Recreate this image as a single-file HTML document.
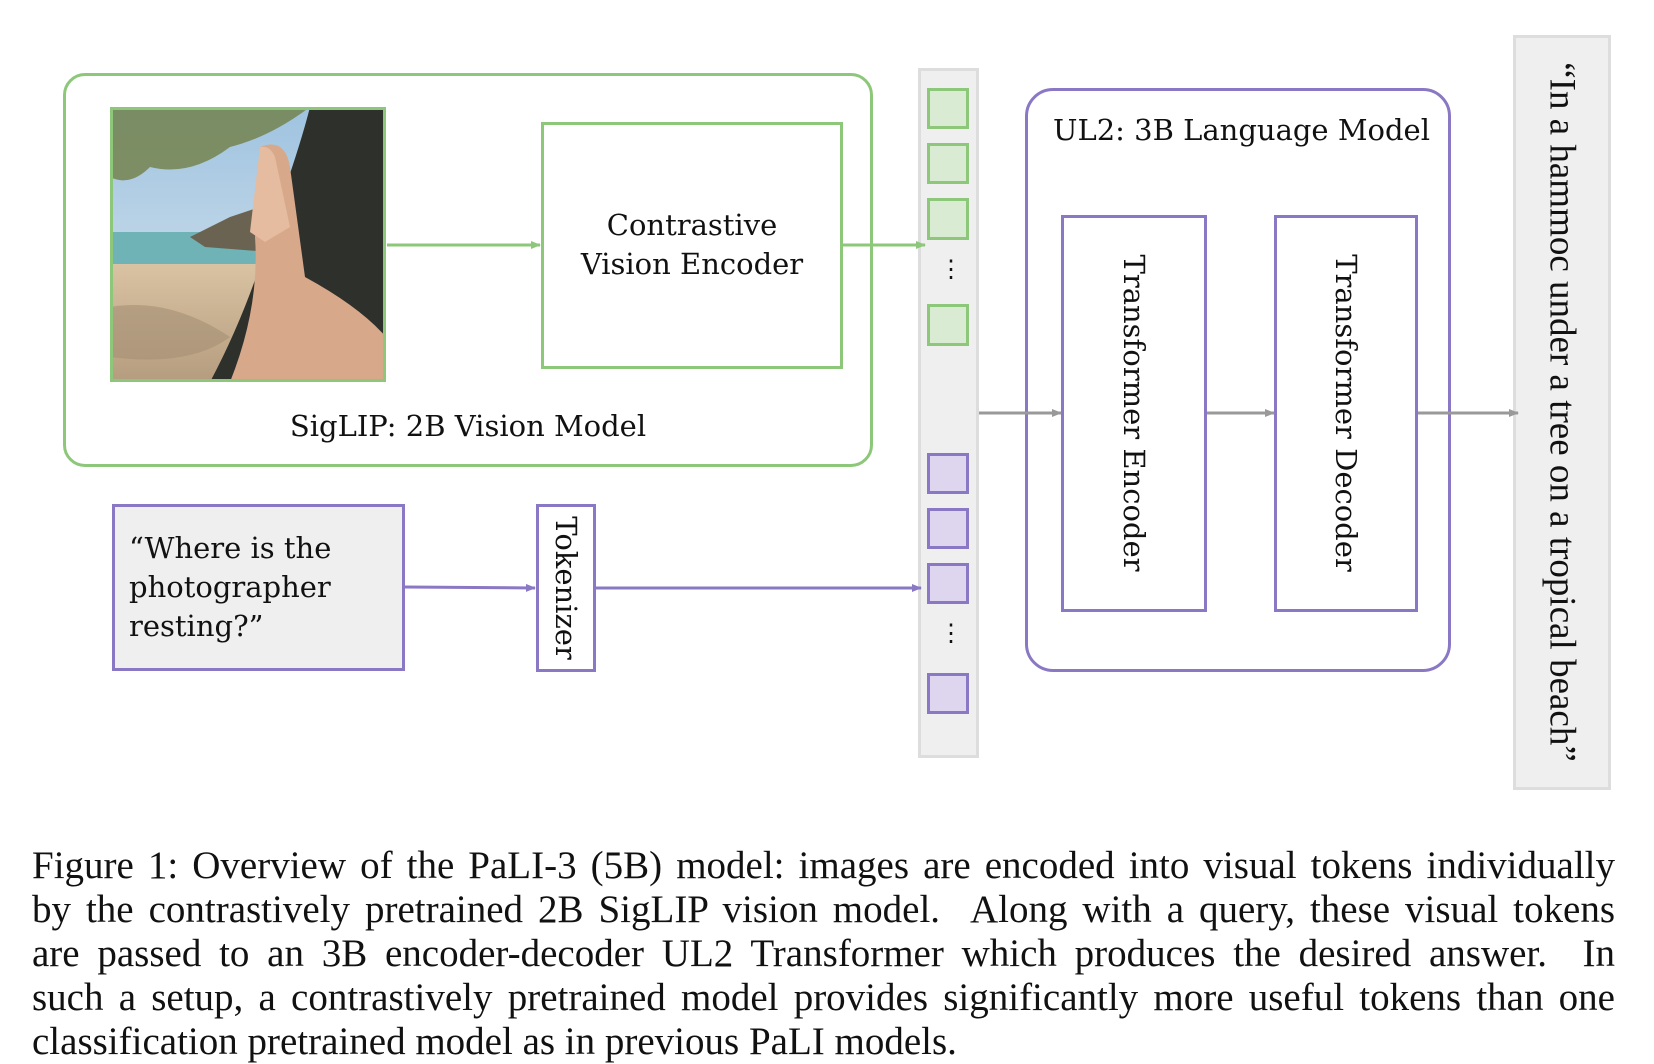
<!DOCTYPE html>
<html><head><meta charset="utf-8"><style>
html,body{margin:0;padding:0;background:#fff;}
body{width:1654px;height:1064px;position:relative;overflow:hidden;font-family:"DejaVu Serif","Liberation Serif",serif;}
.a{position:absolute;box-sizing:border-box;}
.t{position:absolute;color:#111;font-size:29px;white-space:nowrap;}
.cap{position:absolute;left:32px;top:844px;width:1583px;font-family:"Liberation Serif",serif;font-size:39px;line-height:44px;color:#111;}
.cap div{text-align:justify;text-align-last:justify;height:44px;white-space:nowrap;}
.cap div.l{text-align-last:left;}
.g{background:#d9ebd3;border:3px solid #8cc77a;}
.p{background:#ddd6ee;border:3px solid #8b78c4;}
</style></head><body>
<div class="a" style="left:63px;top:73px;width:810px;height:394px;border:3px solid #8cc77a;border-radius:22px"></div>
<svg class="a" style="left:110px;top:107px" width="276" height="275" viewBox="0 0 276 275">
<defs><linearGradient id="sk" x1="0" y1="0" x2="0" y2="1"><stop offset="0" stop-color="#9fc3e0"/><stop offset="1" stop-color="#dbe6ee"/></linearGradient>
<linearGradient id="sd" x1="0" y1="0" x2="0" y2="1"><stop offset="0" stop-color="#d9c3a3"/><stop offset="1" stop-color="#b59c7e"/></linearGradient></defs>
<rect width="276" height="275" fill="url(#sk)"/>
<rect y="125" width="276" height="35" fill="#6fb3b6"/>
<path d="M80 130 L120 110 L150 100 L170 130 L160 145 L95 140Z" fill="#6b6352"/>
<rect y="157" width="276" height="118" fill="url(#sd)"/>
<path d="M0 200 Q60 190 120 230 Q80 260 0 250Z" fill="#a58f74" opacity=".6"/>
<path d="M200 0 L276 0 L276 275 L100 275 Q140 200 165 110 Q190 40 200 0Z" fill="#2e302c"/>
<path d="M150 40 Q175 30 180 60 L195 170 Q250 200 276 230 L276 275 L120 275 Q150 200 145 130Z" fill="#d7a88a"/>
<path d="M150 40 Q160 38 165 50 L180 120 L155 135 L140 125Z" fill="#e5bca0"/>
<path d="M0 0 L200 0 Q160 30 120 40 Q80 70 40 60 Q20 80 0 70Z" fill="#6d7a3a" opacity=".75"/>
</svg>
<div class="a" style="left:110px;top:107px;width:276px;height:275px;border:3px solid #8cc77a"></div>
<div class="a" style="left:541px;top:122px;width:302px;height:247px;border:3px solid #8cc77a"></div>
<div class="t" style="left:531px;top:206px;width:322px;text-align:center;line-height:39px;white-space:normal">Contrastive<br>Vision Encoder</div>
<div class="t" style="left:63px;top:409px;width:810px;text-align:center">SigLIP: 2B Vision Model</div>

<div class="a" style="left:918px;top:68px;width:61px;height:690px;background:#efefef;border:3px solid #ddd"></div>
<div class="a g" style="left:927px;top:88px;width:42px;height:41px"></div>
<div class="a g" style="left:927px;top:143px;width:42px;height:41px"></div>
<div class="a g" style="left:927px;top:198px;width:42px;height:42px"></div>
<div class="a g" style="left:927px;top:304px;width:42px;height:42px"></div>
<div class="t" style="left:939px;top:264px;font-size:24px;line-height:10px">⋮</div>
<div class="a p" style="left:927px;top:453px;width:42px;height:41px"></div>
<div class="a p" style="left:927px;top:508px;width:42px;height:41px"></div>
<div class="a p" style="left:927px;top:563px;width:42px;height:41px"></div>
<div class="a p" style="left:927px;top:673px;width:42px;height:41px"></div>
<div class="t" style="left:939px;top:628px;font-size:24px;line-height:10px">⋮</div>

<div class="a" style="left:112px;top:504px;width:293px;height:167px;background:#efefef;border:3px solid #8b78c4"></div>
<div class="t" style="left:129px;top:529px;line-height:39px">“Where is the<br>photographer<br>resting?”</div>
<div class="a" style="left:536px;top:504px;width:60px;height:168px;border:3px solid #8b78c4"></div>
<div class="t" style="left:566px;top:588px;transform:translate(-50%,-50%) rotate(90deg)">Tokenizer</div>

<div class="a" style="left:1025px;top:88px;width:426px;height:584px;border:3px solid #8b78c4;border-radius:28px"></div>
<div class="t" style="left:1053px;top:113px">UL2: 3B Language Model</div>
<div class="a" style="left:1061px;top:215px;width:146px;height:397px;border:3px solid #8b78c4"></div>
<div class="t" style="left:1134px;top:413px;transform:translate(-50%,-50%) rotate(90deg)">Transformer Encoder</div>
<div class="a" style="left:1274px;top:215px;width:144px;height:397px;border:3px solid #8b78c4"></div>
<div class="t" style="left:1346px;top:413px;transform:translate(-50%,-50%) rotate(90deg)">Transformer Decoder</div>

<div class="a" style="left:1513px;top:35px;width:98px;height:755px;background:#efefef;border:3px solid #ddd"></div>
<div class="t" style="left:1562px;top:412px;transform:translate(-50%,-50%) rotate(90deg);font-family:'Liberation Serif',serif;font-size:37px">“In a hammoc under a tree on a tropical beach”</div>

<svg class="a" style="left:0;top:0" width="1654" height="1064">
<defs>
<marker id="mg" markerWidth="10" markerHeight="8" refX="9" refY="4" orient="auto" markerUnits="userSpaceOnUse"><path d="M0 0L10 4L0 8Z" fill="#8cc77a"/></marker>
<marker id="mp" markerWidth="10" markerHeight="8" refX="9" refY="4" orient="auto" markerUnits="userSpaceOnUse"><path d="M0 0L10 4L0 8Z" fill="#8b78c4"/></marker>
<marker id="mk" markerWidth="10" markerHeight="8" refX="9" refY="4" orient="auto" markerUnits="userSpaceOnUse"><path d="M0 0L10 4L0 8Z" fill="#999"/></marker>
</defs>
<g stroke-width="3" fill="none">
<line x1="387" y1="245" x2="540" y2="245" stroke="#8cc77a" marker-end="url(#mg)"/>
<line x1="843" y1="245" x2="925" y2="245" stroke="#8cc77a" marker-end="url(#mg)"/>
<line x1="405" y1="587" x2="535" y2="588" stroke="#8b78c4" marker-end="url(#mp)"/>
<line x1="596" y1="588" x2="921" y2="588" stroke="#8b78c4" marker-end="url(#mp)"/>
<line x1="979" y1="413" x2="1061" y2="413" stroke="#999" marker-end="url(#mk)"/>
<line x1="1207" y1="413" x2="1274" y2="413" stroke="#999" marker-end="url(#mk)"/>
<line x1="1418" y1="413" x2="1518" y2="413" stroke="#999" marker-end="url(#mk)"/>
</g></svg>

<div class="cap">
<div>Figure 1: Overview of the PaLI-3 (5B) model: images are encoded into visual tokens individually</div>
<div>by the contrastively pretrained 2B SigLIP vision model. &nbsp;Along with a query, these visual tokens</div>
<div>are passed to an 3B encoder-decoder UL2 Transformer which produces the desired answer. &nbsp;In</div>
<div>such a setup, a contrastively pretrained model provides significantly more useful tokens than one</div>
<div class="l">classification pretrained model as in previous PaLI models.</div>
</div>
</body></html>
